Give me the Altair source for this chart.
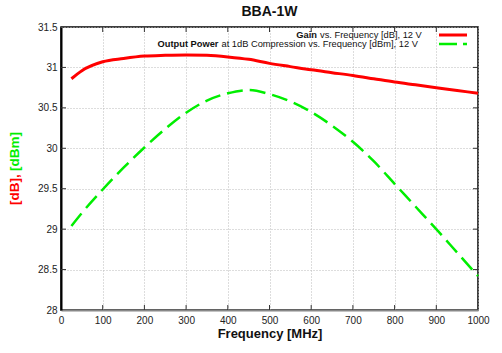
import altair as alt
import pandas as pd

FONT = "Liberation Sans"

# ---- data ----
freq_gain = [25, 50, 100, 150, 200, 250, 300, 350, 400, 450, 500, 550, 600, 650, 700, 750, 800, 850, 900, 950, 1000]
gain_db = [30.86, 30.96, 31.07, 31.11, 31.14, 31.15, 31.155, 31.15, 31.13, 31.10, 31.05, 31.01, 30.97, 30.935,
           30.90, 30.86, 30.82, 30.785, 30.75, 30.715, 30.68]

freq_pow = [25, 50, 100, 150, 200, 250, 300, 350, 400, 450, 500, 550, 600, 650, 700, 750, 800, 850, 900, 950, 1000]
power_dbm = [29.04, 29.20, 29.49, 29.76, 30.01, 30.24, 30.44, 30.59, 30.68, 30.72, 30.67, 30.58, 30.45, 30.28,
             30.08, 29.84, 29.56, 29.28, 29.00, 28.71, 28.42]

x_ticks = [0, 100, 200, 300, 400, 500, 600, 700, 800, 900, 1000]
y_ticks = [28, 28.5, 29, 29.5, 30, 30.5, 31, 31.5]

legend_bold = ["Gain", "Output Power"]
legend_rest = ["vs. Frequency [dB], 12 V", "at 1dB Compression vs. Frequency [dBm], 12 V"]

W, H = 417, 283
RED = "#ff0000"
GREEN = "#00ee00"

gain_df = pd.DataFrame({"f": freq_gain, "v": gain_db})
pow_df = pd.DataFrame({"f": freq_pow, "v": power_dbm})
xt_df = pd.DataFrame({"f": x_ticks[1:-1]})
yt_df = pd.DataFrame({"v": y_ticks[1:-1]})

xs = alt.Scale(domain=[0, 1000], nice=False)
ys = alt.Scale(domain=[28, 31.5], nice=False, zero=False)

x_axis = alt.Axis(values=x_ticks, format="d", title="Frequency [MHz]", titleFont=FONT,
                  titleFontSize=13, titleFontWeight="bold", titleColor="#111",
                  labelFont=FONT, labelFontSize=10, labelColor="#222", ticks=False,
                  domainColor="#888", domainWidth=2, grid=True, gridColor="#bbb",
                  gridDash=[1, 2], labelPadding=5, titlePadding=2, labelFlush=False)
y_axis = alt.Axis(values=y_ticks, labelExpr="'' + datum.value", title="",
                  labelFont=FONT, labelFontSize=10, labelColor="#222", ticks=False,
                  domainColor="#000", domainWidth=2, grid=True, gridColor="#bbb",
                  gridDash=[1, 2], labelPadding=4, labelFlush=False)

X = alt.X("f:Q", scale=xs, axis=x_axis)
Y = alt.Y("v:Q", scale=ys, axis=y_axis)

gain_line = alt.Chart(gain_df).mark_line(color=RED, strokeWidth=3, interpolate="monotone").encode(x=X, y=Y)
pow_line = alt.Chart(pow_df).mark_line(color=GREEN, strokeWidth=2.5, strokeDash=[16, 7],
                                       interpolate="monotone").encode(x=X, y=Y)

TICK = "#333"
bot_ticks = alt.Chart(xt_df).mark_rule(color=TICK, strokeWidth=1).encode(
    x=X, y=alt.value(H), y2=alt.value(H - 5))
top_ticks = alt.Chart(xt_df).mark_rule(color=TICK, strokeWidth=1).encode(
    x=X, y=alt.value(0), y2=alt.value(5))
left_ticks = alt.Chart(yt_df).mark_rule(color=TICK, strokeWidth=1).encode(
    y=Y, x=alt.value(0), x2=alt.value(5))
right_ticks = alt.Chart(yt_df).mark_rule(color=TICK, strokeWidth=1).encode(
    y=Y, x=alt.value(W), x2=alt.value(W - 5))

# legend (inside, top right)
LEG_FS = 9.3
junction = [257, 158.5]
rows_y = [8, 17]
leg_layers = []
for i in range(2):
    leg_layers.append(
        alt.Chart(pd.DataFrame({"t": [legend_bold[i]]})).mark_text(
            font=FONT, fontSize=LEG_FS, fontWeight="bold", align="right", baseline="middle",
            color="#111").encode(x=alt.value(junction[i] - 1), y=alt.value(rows_y[i]), text="t:N"))
    leg_layers.append(
        alt.Chart(pd.DataFrame({"t": [legend_rest[i]]})).mark_text(
            font=FONT, fontSize=LEG_FS, align="left", baseline="middle",
            color="#111").encode(x=alt.value(junction[i] + 2), y=alt.value(rows_y[i]), text="t:N"))

key_red = alt.Chart(pd.DataFrame({"k": [0]})).mark_rule(color=RED, strokeWidth=3).encode(
    x=alt.value(378), x2=alt.value(406), y=alt.value(rows_y[0]))
key_green = alt.Chart(pd.DataFrame({"k": [0]})).mark_rule(color=GREEN, strokeWidth=2.5,
                                                          strokeDash=[18, 6]).encode(
    x=alt.value(378), x2=alt.value(406), y=alt.value(rows_y[1]))

# two-coloured y title
ytitle_red = alt.Chart(pd.DataFrame({"t": ["[dB],"]})).mark_text(
    font=FONT, fontSize=13.5, fontWeight="bold", color=RED, angle=270, align="left",
    baseline="middle").encode(x=alt.value(-46), y=alt.value(178), text="t:N")
ytitle_green = alt.Chart(pd.DataFrame({"t": ["[dBm]"]})).mark_text(
    font=FONT, fontSize=13.5, fontWeight="bold", color=GREEN, angle=270, align="right",
    baseline="middle").encode(x=alt.value(-46), y=alt.value(105), text="t:N")

chart = alt.layer(
    gain_line, pow_line, bot_ticks, top_ticks, left_ticks, right_ticks,
    *leg_layers, key_red, key_green, ytitle_red, ytitle_green,
).properties(
    width=W, height=H,
    title=alt.Title("BBA-1W", font=FONT, fontSize=14, fontWeight="bold", anchor="middle",
                    offset=3, color="#111"),
    autosize=alt.AutoSizeParams(type="none"),
    padding={"left": 61, "top": 27, "right": 24, "bottom": 43},
).configure_view(stroke="#000", strokeWidth=1.5)

chart.save("out.html", embed_options={"renderer": "svg", "actions": False})
